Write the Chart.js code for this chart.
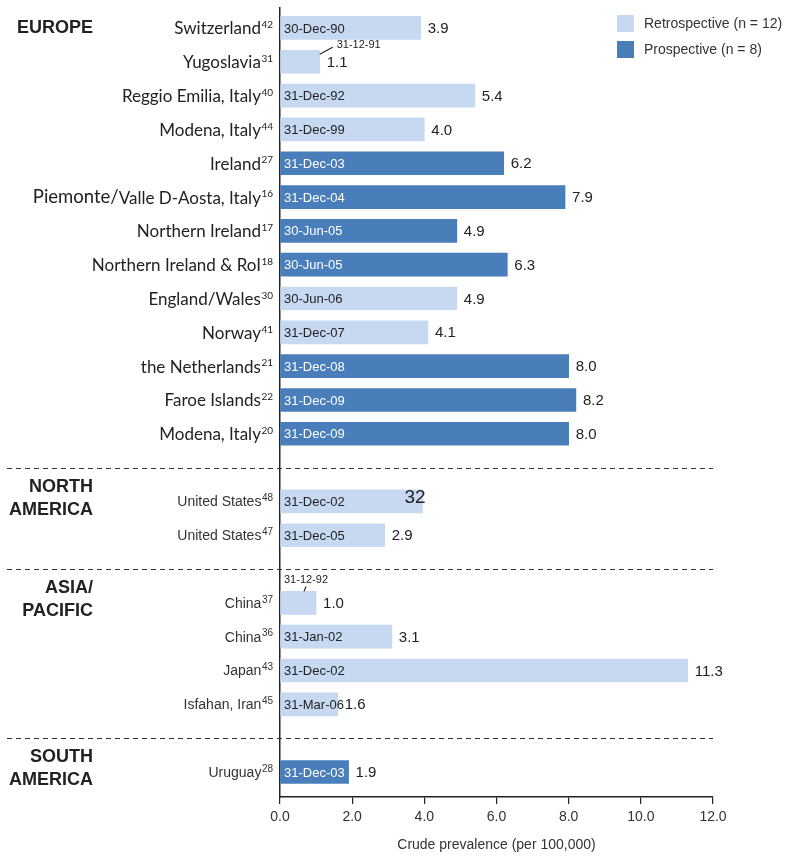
<!DOCTYPE html>
<html>
<head>
<meta charset="utf-8">
<script src="https://cdn.jsdelivr.net/npm/chart.js@4"></script>
<style>
html, body { margin: 0; padding: 0; background: #fff; }
#wrap { width: 800px; height: 864px; }
</style>
</head>
<body>
<div id="wrap"><canvas id="prevChart"></canvas></div>
<script>
// data
const regionNames = [['EUROPE'], ['NORTH', 'AMERICA'], ['ASIA/', 'PACIFIC'], ['SOUTH', 'AMERICA']];
const studies = ['Switzerland', 'Yugoslavia', 'Reggio Emilia, Italy', 'Modena, Italy', 'Ireland',
    'Piemonte/Valle D-Aosta, Italy', 'Northern Ireland', 'Northern Ireland & RoI', 'England/Wales',
    'Norway', 'the Netherlands', 'Faroe Islands', 'Modena, Italy', 'United States', 'United States',
    'China', 'China', 'Japan', 'Isfahan, Iran', 'Uruguay'];
const refs = ['42', '31', '40', '44', '27', '16', '17', '18', '30', '41', '21', '22', '20', '48', '47', '37', '36', '43', '45', '28'];
const studyRegion = [0, 0, 0, 0, 0, 0, 0, 0, 0, 0, 0, 0, 0, 1, 1, 2, 2, 2, 2, 3];
const prevalence = [3.9, 1.1, 5.4, 4.0, 6.2, 7.9, 4.9, 6.3, 4.9, 4.1, 8.0, 8.2, 8.0, 3.95, 2.9, 1.0, 3.1, 11.3, 1.6, 1.9];
const design = ['retro', 'retro', 'retro', 'retro', 'pro', 'pro', 'pro', 'pro', 'retro', 'retro',
    'pro', 'pro', 'pro', 'retro', 'retro', 'retro', 'retro', 'retro', 'retro', 'pro'];
const dates = ['30-Dec-90', '31-12-91', '31-Dec-92', '31-Dec-99', '31-Dec-03', '31-Dec-04', '30-Jun-05',
    '30-Jun-05', '30-Jun-06', '31-Dec-07', '31-Dec-08', '31-Dec-09', '31-Dec-09', '31-Dec-02',
    '31-Dec-05', '31-12-92', '31-Jan-02', '31-Dec-02', '31-Mar-06', '31-Dec-03'];
const valueLabels = ['3.9', '1.1', '5.4', '4.0', '6.2', '7.9', '4.9', '6.3', '4.9', '4.1', '8.0', '8.2',
    '8.0', '32', '2.9', '1.0', '3.1', '11.3', '1.6', '1.9'];
const legendLabels = ['Retrospective (n = 12)', 'Prospective (n = 8)'];
const xTicks = [0, 2, 4, 6, 8, 10, 12];
const xTitle = 'Crude prevalence (per 100,000)';

const COLORS = { retro: '#c6d9f0', pro: '#4a7ebb' };
const ARIAL = '"Liberation Sans", Arial, sans-serif';
const CALIBRI = 'Lato, "Open Sans", sans-serif';

// one empty slot between regions
const rowPos = studies.map((s, i) => i + studyRegion[i]);

const decorations = {
    id: 'decorations',
    afterDraw(chart) {
        const ctx = chart.ctx;
        const xs = chart.scales.x;
        const ys = chart.scales.y;
        const area = chart.chartArea;
        const half = 11.5;
        ctx.save();

        // dashed separators
        ctx.strokeStyle = '#333';
        ctx.lineWidth = 1.2;
        ctx.setLineDash([5, 4]);
        for (let r = 0; r < regionNames.length - 1; r++) {
            let last = -1;
            studyRegion.forEach((g, i) => { if (g === r) last = i; });
            const y = Math.round(ys.getPixelForValue(rowPos[last] + 1)) + 0.5;
            ctx.beginPath();
            ctx.moveTo(7, y);
            ctx.lineTo(area.right, y);
            ctx.stroke();
        }
        ctx.setLineDash([]);

        // region titles
        ctx.fillStyle = '#222';
        ctx.font = 'bold 18px ' + ARIAL;
        ctx.textAlign = 'right';
        ctx.textBaseline = 'middle';
        regionNames.forEach((lines, r) => {
            const first = studyRegion.indexOf(r);
            const cy = ys.getPixelForValue(rowPos[first]) - (lines.length > 1 ? 3 : 0);
            lines.forEach((ln, k) => {
                ctx.fillText(ln, 93, cy + (k - (lines.length - 1) / 2) * 23);
            });
        });

        // study labels with superscript refs
        studies.forEach((name, i) => {
            const y = ys.getPixelForValue(rowPos[i]);
            const euro = studyRegion[i] === 0;
            const fam = euro ? CALIBRI : ARIAL;
            const size = euro ? 17 : 14;
            ctx.fillStyle = euro ? '#222' : '#333';
            ctx.textAlign = 'left';
            ctx.font = (euro ? 10 : 10) + 'px ' + fam;
            const supW = ctx.measureText(refs[i]).width;
            let right = 273 - supW - 0.5;
            ctx.fillText(refs[i], right + 0.5, y - 3);
            ctx.textAlign = 'right';
            if (i === 5) {
                // first part printed larger in the original
                const cut = name.indexOf('/') + 1;
                ctx.font = size + 'px ' + fam;
                ctx.fillText(name.slice(cut), right, y + 1);
                const w = ctx.measureText(name.slice(cut)).width;
                ctx.font = (size + 1.5) + 'px ' + fam;
                ctx.fillText(name.slice(0, cut), right - w, y);
            } else {
                ctx.font = size + 'px ' + fam;
                ctx.fillText(name, right, y + 1);
            }
        });

        // dates inside bars, values after bars
        studies.forEach((s, i) => {
            const y = ys.getPixelForValue(rowPos[i]);
            const x0 = xs.getPixelForValue(0);
            const x1 = xs.getPixelForValue(prevalence[i]);
            ctx.textAlign = 'left';
            if (prevalence[i] < 1.5) {
                ctx.font = '11px ' + ARIAL;
                ctx.fillStyle = '#222';
                ctx.strokeStyle = '#222';
                ctx.lineWidth = 1.2;
                ctx.beginPath();
                if (studyRegion[i] === 0) {
                    ctx.moveTo(x1, y - half + 4);
                    ctx.lineTo(x1 + 13, y - half - 3);
                    ctx.stroke();
                    ctx.fillText(dates[i], x1 + 17, y - half - 5);
                } else {
                    ctx.moveTo(x0 + 24, y - half);
                    ctx.lineTo(x0 + 26, y - half - 5);
                    ctx.stroke();
                    ctx.fillText(dates[i], x0 + 4, y - half - 11);
                }
            } else {
                ctx.font = '13px ' + ARIAL;
                ctx.fillStyle = design[i] === 'pro' ? '#fff' : '#222';
                ctx.fillText(dates[i], x0 + 4, y + 1);
            }
            ctx.fillStyle = '#222';
            if (valueLabels[i] === prevalence[i].toFixed(1)) {
                ctx.font = '15px ' + ARIAL;
                ctx.fillText(valueLabels[i], x1 + 7, y + 1);
            } else {
                ctx.font = '19px ' + ARIAL;
                ctx.fillText(valueLabels[i], x1 - 18, y - 4);
            }
        });

        // legend
        ['retro', 'pro'].forEach((k, j) => {
            const y = 15 + j * 26;
            ctx.fillStyle = COLORS[k];
            ctx.fillRect(617, y, 17, 17);
            ctx.fillStyle = '#333';
            ctx.font = '14px ' + ARIAL;
            ctx.textAlign = 'left';
            ctx.fillText(legendLabels[j], 644, y + 9);
        });
        ctx.restore();
    }
};

const ctx = document.getElementById('prevChart');
new Chart(ctx, {
    type: 'bar',
    data: {
        datasets: [{
            data: prevalence.map((v, i) => ({ x: v, y: rowPos[i] })),
            backgroundColor: design.map(d => COLORS[d]),
            borderWidth: 0,
            barThickness: 23,
        }]
    },
    options: {
        indexAxis: 'y',
        responsive: true,
        maintainAspectRatio: false,
        animation: false,
        layout: { padding: { left: 280, top: 8, right: 87, bottom: 0 } },
        scales: {
            x: {
                type: 'linear',
                min: 0,
                max: 12,
                afterBuildTicks: s => { s.ticks = xTicks.map(v => ({ value: v })); },
                afterFit: s => { s.height = 67; },
                ticks: {
                    callback: v => Number(v).toFixed(1),
                    color: '#333',
                    font: { family: ARIAL, size: 14 },
                    padding: 5,
                    maxRotation: 0,
                },
                grid: { drawOnChartArea: false, drawTicks: true, tickLength: 7, color: '#222', lineWidth: 1.2 },
                border: { display: true, color: '#222', width: 1.5 },
                title: {
                    display: true,
                    text: xTitle,
                    color: '#333',
                    font: { family: ARIAL, size: 14 },
                    padding: { top: 4, bottom: 10 },
                },
            },
            y: {
                type: 'linear',
                reverse: true,
                offset: false,
                min: -0.59,
                max: 22.74,
                afterFit: s => { s.width = 0; },
                ticks: { display: false },
                grid: { display: false, drawTicks: false, offset: false },
                border: { display: true, color: '#222', width: 1.5 },
            },
        },
        plugins: {
            legend: { display: false },
            tooltip: { enabled: false },
        },
    },
    plugins: [decorations],
});
</script>
</body>
</html>
